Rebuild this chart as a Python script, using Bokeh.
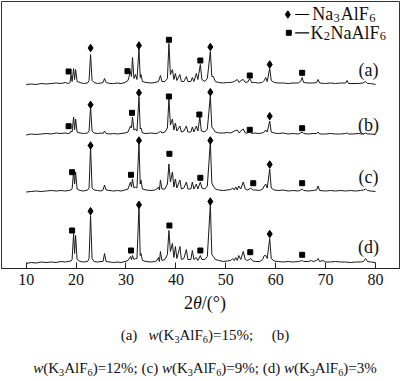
from bokeh.plotting import figure
from bokeh.models import FixedTicker, Div, Range1d
from bokeh.layouts import column
from bokeh.core.properties import value
from bokeh.embed import file_html
from bokeh.resources import INLINE

SERIF = "Liberation Serif"

# ---------------- data ----------------
tick_values = [10, 20, 30, 40, 50, 60, 70, 80]
sample_labels = ["(a)", "(b)", "(c)", "(d)"]
k3alf6_percent = [15, 12, 9, 3]
# vertical offsets of the four stacked patterns (arbitrary intensity units)
pattern_offsets = [184, 133.5, 76.5, 5]

# (2theta, intensity above the pattern's own baseline)
curve_a = [(10, 0), (11, 0.5), (12, 0), (13, 1), (14, 0.5), (15, 1), (16, 1.5), (17, 1), (17.8, 2), (18.4, 1),
           (18.8, 2), (19.0, 10), (19.2, 3), (19.5, 16), (19.7, 5), (19.9, 15), (20.2, 3), (20.8, 2), (21.5, 1),
           (22.3, 1.5), (22.6, 4), (22.9, 30), (23.2, 4), (23.6, 2), (24.3, 1), (25.0, 1.5), (25.4, 2), (25.7, 6),
           (26.0, 2), (26.8, 1), (27.5, 1), (28.3, 1.5), (29.0, 1), (29.8, 2), (30.4, 4), (30.9, 13), (31.1, 8),
           (31.3, 27), (31.6, 6), (31.9, 10), (32.2, 5), (32.6, 35.5), (32.85, 7), (33.0, 10), (33.3, 3), (34.0, 2),
           (35.0, 1.5), (35.8, 2), (36.5, 3), (36.9, 9), (37.2, 3), (37.8, 3), (38.3, 6), (38.6, 41), (38.9, 10),
           (39.3, 15), (39.6, 5), (39.9, 11), (40.2, 4), (40.8, 10), (41.1, 3), (41.6, 3), (42.1, 8), (42.4, 3),
           (43.0, 3), (43.3, 7), (43.6, 3), (44.1, 11), (44.4, 5), (44.9, 20), (45.2, 5), (45.8, 3), (46.3, 6),
           (46.9, 33), (47.2, 8), (47.5, 8), (47.9, 3), (48.6, 2), (49.5, 1.5), (50.3, 2), (51.0, 2), (51.7, 3),
           (52.3, 5), (52.7, 2), (53.0, 4), (53.5, 5), (53.9, 2), (54.4, 2.5), (54.8, 6), (55.2, 2), (55.8, 2),
           (56.5, 1.5), (57.3, 2), (57.7, 4), (58.0, 7), (58.3, 3), (58.8, 16), (59.1, 4), (59.7, 2), (60.5, 1.5),
           (61.5, 1.5), (62.5, 1), (63.5, 1.5), (64.5, 1.5), (65.0, 3), (65.3, 7), (65.6, 2), (66.5, 1.5),
           (67.5, 1.5), (68.2, 2), (68.5, 5), (68.8, 1.5), (70, 1), (71, 1.5), (72, 1), (73, 1.5), (74.0, 1.5),
           (74.3, 4), (74.6, 1), (75.5, 1), (76.5, 1), (77.5, 1.5), (78.0, 3), (78.4, 1), (79, 1), (80, 0)]

curve_b = [(10, 0), (11, 1), (12, 0.5), (13, 1), (14, 1.5), (15, 1), (16, 2), (17, 1.5), (17.8, 2), (18.4, 1.5),
           (18.8, 2), (19.0, 4), (19.2, 3), (19.5, 18), (19.7, 5), (19.9, 16), (20.2, 3), (20.8, 2), (21.5, 1.5),
           (22.3, 2), (22.6, 4), (22.9, 28), (23.2, 4), (23.6, 2), (24.3, 1.5), (25.0, 2), (25.4, 1.5), (25.7, 4),
           (26.0, 1.5), (26.8, 1), (27.5, 1.5), (28.3, 1), (29.0, 1.5), (29.8, 2), (30.4, 3), (30.9, 9), (31.1, 7),
           (31.3, 18), (31.6, 5), (31.9, 6), (32.2, 4), (32.6, 38), (32.85, 6), (33.0, 7), (33.3, 2), (34.0, 1.5),
           (35.0, 2), (35.8, 1.5), (36.5, 2), (36.9, 4), (37.2, 2), (37.8, 3), (38.3, 7), (38.6, 36), (38.9, 10),
           (39.3, 16), (39.6, 5), (39.9, 12), (40.2, 4), (40.8, 9), (41.1, 3), (41.6, 4), (42.1, 9), (42.4, 3),
           (43.0, 3), (43.3, 8), (43.6, 3), (44.1, 9), (44.4, 4), (44.8, 18), (45.1, 4), (45.8, 3), (46.3, 6),
           (46.9, 39), (47.2, 8), (47.5, 6), (47.9, 3), (48.6, 2), (49.5, 2), (50.3, 2.5), (51.0, 2), (51.7, 4),
           (52.3, 5), (52.7, 2), (53.0, 4), (53.5, 6), (53.9, 2), (54.4, 2), (54.8, 4), (55.2, 1.5), (55.8, 2),
           (56.5, 1.5), (57.3, 2), (57.7, 3), (58.0, 5), (58.3, 3), (58.8, 14), (59.1, 3), (59.7, 2), (60.5, 1.5),
           (61.5, 2), (62.5, 1), (63.5, 1.5), (64.5, 1), (65.0, 2), (65.3, 3), (65.6, 1.5), (66.5, 1), (67.5, 1.5),
           (68.2, 1.5), (68.5, 3), (68.8, 1), (70, 1), (71, 1.5), (72, 1), (73, 1), (74.0, 1.5), (74.3, 2),
           (74.6, 1), (75.5, 1), (76.5, 1.5), (77.5, 1), (78.0, 2), (78.4, 1), (79, 1), (80, 0.5)]

curve_c = [(10, 0), (11, 0.5), (12, 1), (13, 0.5), (14, 1), (15, 1.5), (16, 1), (17, 1.5), (17.8, 1), (18.4, 1.5),
           (19.0, 2), (19.2, 3), (19.5, 21), (19.7, 8), (19.9, 20), (20.2, 3), (20.8, 1.5), (21.5, 1), (22.3, 2),
           (22.6, 4), (22.9, 45), (23.2, 4), (23.6, 2), (24.3, 1.5), (25.0, 1), (25.4, 2), (25.7, 7), (26.0, 2),
           (26.8, 1.5), (27.5, 1), (28.3, 1.5), (29.0, 1), (29.8, 2), (30.4, 3), (30.9, 10), (31.1, 5), (31.3, 13),
           (31.6, 4), (31.9, 5), (32.2, 4), (32.6, 49), (32.85, 8), (33.0, 12), (33.3, 3), (34.0, 2), (35.0, 1.5),
           (35.8, 2), (36.2, 3), (36.5, 5), (36.7, 2), (36.9, 12), (37.2, 3), (37.8, 3), (38.3, 8), (38.6, 28),
           (38.9, 10), (39.3, 20), (39.6, 5), (39.9, 13), (40.2, 4), (40.8, 12), (41.1, 3), (41.6, 4), (42.1, 10),
           (42.4, 3), (43.0, 3), (43.3, 10), (43.6, 3), (44.1, 8), (44.4, 3), (44.9, 10), (45.2, 4), (45.8, 3),
           (46.3, 6), (46.9, 50), (47.2, 9), (47.5, 6), (47.9, 3), (48.6, 2), (49.5, 1.5), (50.3, 2), (51.0, 2.5),
           (51.4, 4), (51.7, 2), (52.0, 5), (52.3, 2), (52.6, 6), (53.0, 3), (53.5, 10), (53.9, 3), (54.4, 2),
           (55.0, 4), (55.4, 2), (56.0, 2), (56.8, 1.5), (57.4, 3), (57.7, 6), (58.0, 8), (58.3, 4), (58.8, 23),
           (59.1, 4), (59.7, 2), (60.5, 1.5), (61.5, 2), (62.5, 1), (63.5, 1.5), (64.5, 1), (65.0, 2), (65.3, 3),
           (65.6, 1.5), (66.5, 1), (67.5, 1.5), (68.2, 2), (68.5, 6), (68.8, 1.5), (70, 1), (71, 1.5), (72, 1),
           (73, 1.5), (74, 1), (75, 1.5), (76, 1), (77, 1.5), (77.6, 2), (78.0, 3), (78.4, 1.5), (79, 1), (80, 0.5)]

curve_d = [(10, 0), (11, 1), (12, 0.5), (13, 1.5), (14, 1), (15, 1.5), (16, 1), (17, 2), (17.8, 1.5), (18.4, 2),
           (19.0, 2.5), (19.2, 4), (19.5, 30), (19.7, 10), (19.9, 28), (20.2, 4), (20.8, 2), (21.5, 1.5), (22.3, 2),
           (22.6, 5), (22.9, 48), (23.2, 5), (23.6, 2), (24.3, 1.5), (25.0, 2), (25.4, 2), (25.7, 10), (26.0, 2),
           (26.8, 1.5), (27.5, 1), (28.3, 1.5), (29.0, 1), (29.8, 2), (30.4, 3), (30.9, 7), (31.1, 4), (31.3, 8),
           (31.6, 4), (31.9, 5), (32.2, 5), (32.6, 57), (32.85, 8), (33.0, 10), (33.3, 3), (34.0, 2), (35.0, 1.5),
           (35.8, 2), (36.2, 3), (36.5, 6), (36.7, 2), (36.9, 12), (37.2, 3), (37.8, 4), (38.3, 9), (38.6, 33),
           (38.9, 12), (39.3, 20), (39.6, 6), (39.9, 17), (40.2, 5), (40.8, 17), (41.1, 4), (41.6, 5), (42.1, 14),
           (42.4, 4), (43.0, 4), (43.3, 13), (43.6, 4), (44.1, 6), (44.4, 3), (44.9, 8), (45.2, 4), (45.8, 4),
           (46.3, 7), (46.9, 59), (47.2, 9), (47.5, 7), (47.9, 4), (48.6, 3), (49.5, 2), (50.3, 2.5), (51.0, 3),
           (51.4, 5), (51.7, 3), (52.0, 6), (52.3, 3), (52.6, 8), (53.0, 4), (53.5, 12), (53.9, 4), (54.4, 3),
           (55.0, 5), (55.4, 2.5), (56.0, 2), (56.8, 2), (57.4, 4), (57.7, 8), (58.0, 8), (58.3, 5), (58.8, 25),
           (59.1, 5), (59.7, 2.5), (60.5, 2), (61.5, 1.5), (62.5, 2), (63.5, 1.5), (64.5, 2), (65.0, 2.5), (65.3, 3),
           (65.6, 2), (66.5, 2), (67.2, 3), (67.5, 2), (68.2, 3), (68.5, 5), (68.8, 2), (69.5, 3), (70, 1.5),
           (71, 1.5), (72, 2), (73, 1.5), (74, 1.5), (75, 1), (76, 1.5), (77, 1.5), (77.6, 2), (78.0, 5), (78.4, 2),
           (79, 1.5), (80, 1)]

# phase markers: (2theta, absolute height in the stacked plot)
na3alf6_a = [(22.9, 220.5), (32.6, 223), (46.9, 221.5), (58.8, 204)]
na3alf6_b = [(22.9, 163.7), (32.6, 175.7), (46.9, 176.3), (58.8, 152.3)]
na3alf6_c = [(22.9, 123), (32.6, 128), (46.9, 128), (58.8, 104)]
na3alf6_d = [(22.9, 57.3), (32.6, 63.7), (46.9, 67), (58.8, 34.5)]
k2naalf6_a = [(18.5, 197), (30.3, 197.3), (38.6, 228.7), (44.9, 208), (54.8, 193), (65.3, 195.7)]
k2naalf6_b = [(18.5, 142.3), (31.2, 155.7), (38.6, 172), (44.7, 154), (54.8, 138.7), (65.3, 140.3)]
k2naalf6_c = [(19.2, 96.3), (31.0, 93.7), (38.7, 114.7), (44.9, 90.7), (55.5, 85.3), (65.3, 85.3)]
k2naalf6_d = [(19.2, 38), (31.0, 18), (38.7, 43), (44.9, 18), (54.9, 16.3), (65.3, 13.7)]

# positions of the (a)-(d) tags
tag_theta = 78.6
tag_heights = [198.5, 143.5, 91.5, 21.5]

# ---------------- figure ----------------
p = figure(frame_width=398, frame_height=267, x_range=Range1d(5.05, 84.81), y_range=Range1d(0, 267),
           output_backend="svg", toolbar_location=None, y_axis_location=None,
           min_border_left=1, min_border_right=1, min_border_top=1, min_border_bottom=26)
p.grid.visible = False
p.background_fill_color = "white"
p.border_fill_color = "white"
p.outline_line_color = "#333333"
p.outline_line_width = 1

ax = p.xaxis[0]
ax.ticker = FixedTicker(ticks=tick_values)
ax.minor_tick_line_color = None
ax.major_tick_in = 6
ax.major_tick_out = 0
ax.major_tick_line_color = "#222222"
ax.axis_line_color = "#222222"
ax.major_label_standoff = 5
ax.major_label_text_font = SERIF
ax.major_label_text_font_size = "16px"
ax.major_label_text_color = "#111111"

curves = [curve_a, curve_b, curve_c, curve_d]
for curve, off in zip(curves, pattern_offsets):
    p.line([c[0] for c in curve], [off + c[1] for c in curve], line_color="#1a1a1a", line_width=1)

for marks in [na3alf6_a, na3alf6_b, na3alf6_c, na3alf6_d]:
    p.scatter([m[0] for m in marks], [m[1] for m in marks], marker="diamond", size=7.5,
              fill_color="black", line_color="black")
for marks in [k2naalf6_a, k2naalf6_b, k2naalf6_c, k2naalf6_d]:
    p.scatter([m[0] for m in marks], [m[1] for m in marks], marker="square", size=5,
              fill_color="black", line_color="black")

p.text([tag_theta] * 4, tag_heights, text=sample_labels, text_font=value(SERIF),
       text_font_size=value("18px"), text_align="center", text_baseline="middle", text_color="#111111")

# ---------------- hand-made legend with subscripts ----------------
leg_x = [62.43, 62.63]
leg_rows = [254.0, 235.7]
leg_base = [254.5, 236.0]
p.scatter([leg_x[0]], [leg_rows[0]], marker="diamond", size=7.5, fill_color="black", line_color="black")
p.scatter([leg_x[1]], [leg_rows[1]], marker="square", size=5, fill_color="black", line_color="black")
p.segment([63.9, 63.9], leg_rows, [66.7, 66.7], leg_rows, line_color="black", line_width=1.2)


def piece(txt, dx, y, size):
    p.text([leg_x[0]], [y], text=[txt], x_offset=dx, text_font=value(SERIF),
           text_font_size=value(size), text_baseline="alphabetic", text_align="left", text_color="#111111")


piece("Na", 24.4, leg_base[0], "18px")
piece("3", 45.8, leg_base[0] - 3.5, "12.5px")
piece("AlF", 53.0, leg_base[0], "18px")
piece("6", 81.5, leg_base[0] - 3.5, "12.5px")
piece("K", 22.7, leg_base[1], "18px")
piece("2", 36.0, leg_base[1] - 3.5, "12.5px")
piece("NaAlF", 42.7, leg_base[1], "18px")
piece("6", 92.0, leg_base[1] - 3.5, "12.5px")

# ---------------- axis title and caption ----------------
SUB = '<sub style="font-size:68%;vertical-align:-0.28em;line-height:0">'


def wk(pct):
    return f'<i>w</i>(K{SUB}3</sub>AlF{SUB}6</sub>)={pct}%'


sp = "&nbsp;"
line1 = f"{sample_labels[0]}{sp*3}{wk(k3alf6_percent[0])};{sp*5}{sample_labels[1]}"
line2 = (f"{wk(k3alf6_percent[1])}; {sample_labels[2]} {wk(k3alf6_percent[2])}; "
         f"{sample_labels[3]} {wk(k3alf6_percent[3])}")

html = (f'<div style="font-family:\'{SERIF}\';color:#111;text-align:center;width:400px;">'
        f'<div style="font-size:18px;line-height:8px;height:8px;">2<i>&theta;</i>/(&deg;)</div>'
        f'<div style="font-size:15px;line-height:18px;margin-top:19px;white-space:nowrap;">{line1}</div>'
        f'<div style="font-size:15px;line-height:18px;margin-top:15px;white-space:nowrap;">{line2}</div>'
        f'</div>')
caption = Div(text=html, width=400, height=87)

layout = column(p, caption, spacing=0)
open("out.html", "w").write(file_html(layout, INLINE))
